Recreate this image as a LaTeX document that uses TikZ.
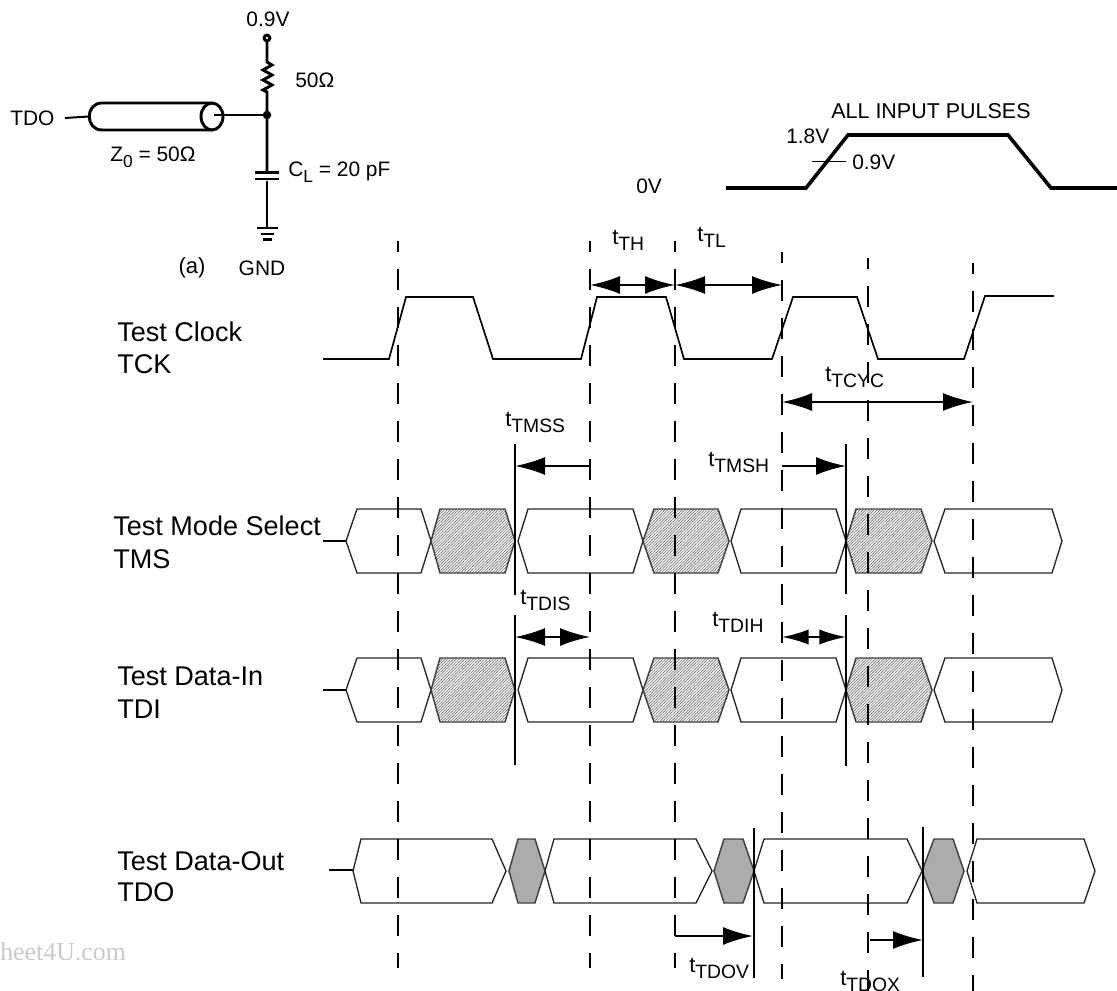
\documentclass[tikz,border=0pt]{standalone}
\usepackage{fontspec}
\setmainfont{Liberation Sans}
\newfontfamily\markfont{Liberation Serif}
\usetikzlibrary{arrows.meta,patterns.meta}
\tikzset{>={Latex[length=22.5pt,width=13.5pt]}}
\definecolor{mark1}{HTML}{C9C9C9}
\tikzstyle{wire}=[line width=2.2pt]
\tikzstyle{thin wave}=[line width=1.25pt]
\tikzstyle{thick wave}=[line width=2.7pt]
\tikzstyle{cursor}=[line width=1.85pt,dash pattern=on 15.75pt off 12.75pt,dash phase=7.5pt]
\tikzstyle{limit}=[line width=1.75pt]
\tikzstyle{span}=[line width=1.6pt]
\tikzstyle{bus}=[line width=1pt,draw=black!85,fill=white]
\tikzstyle{skew}=[line width=1.1pt,draw=black!75,pattern={Lines[angle=45,distance=1.5pt,line width=.5pt]},pattern color=black!55]
\tikzstyle{skew out}=[line width=1.1pt,draw=black!75,fill=gray!65]
\tikzstyle{caption}=[inner sep=0pt,font=\fontsize{20.3}{20.3}\selectfont]
\tikzstyle{small}=[inner sep=0pt,font=\fontsize{15.7}{15.7}\selectfont]
\tikzstyle{timing}=[inner sep=0pt,anchor=west,font=\fontsize{16.5}{16.5}\selectfont]
\newcommand{\tname}[1]{t\raisebox{-4.5pt}{\fontsize{14.5}{14.5}\selectfont #1}}
\newcommand{\lowtext}[1]{\raisebox{-4.5pt}{\fontsize{13}{13}\selectfont #1}}
\newcommand{\hexa}[7]
{  % #1 = style, #2..#5 = x of tip, corner, corner, tip, #6 = y top, #7 = y bottom
  \draw[#1] (#2,{(#6+#7)/2}) -- (#3,#6) -- (#4,#6) -- (#5,{(#6+#7)/2}) -- (#4,#7) -- (#3,#7) -- cycle;
}
\begin{document}
\begin{tikzpicture}[x=0.75pt,y=-0.75pt]
  \useasboundingbox (0,0) rectangle (1117,991);
  \node[inner sep=0pt,anchor=west,text=mark1,font=\markfont\fontsize{19.4}{19.4}\selectfont] (mark) at (0,952) {heet4U.com};
  % load circuit
  \node[small] (vtop) at (268,19) {0.9V};
  \draw[wire] (267,38) circle (2.2pt);
  \coordinate (rtop) at (267,41);
  \coordinate (join) at (267,115);
  \coordinate (gnd) at (267,228);
  \draw[wire] (rtop) -- (267,62) -- (272,65) -- (263,70) -- (272,75) -- (263,80) -- (272,85) -- (263,90) -- (267,92) -- (join) -- (267,172);
  \draw[wire] (267,181) -- (gnd);
  \fill (join) circle (3.2pt);
  \draw[wire] (255,172.5) -- (279,172.5);
  \draw[wire] (255,179) -- (279,179);
  \draw[wire] (257,228) -- (278,228);
  \draw[wire] (261,234) -- (274,234);
  \draw[wire] (263,239.5) -- (272,239.5);
  \node[small,anchor=west] (tdo in) at (10,118) {TDO};
  \coordinate (cable l) at (89,116.5);
  \draw[line width=1.5pt] (65,118) -- (cable l);
  \draw[wire] (212,103) -- (102,103) .. controls (85,103) and (85,130) .. (102,130) -- (212,130);
  \draw[wire] (212,116.5) circle[x radius=8.25pt,y radius=10.1pt];
  \draw[wire] (214,115) -- (join);
  \node[small,anchor=west] (z0) at (110,157) {Z\lowtext{0} = 50Ω};
  \node[small,anchor=west] (r50) at (295,80) {50Ω};
  \node[small,anchor=west] (cl) at (288,172) {C\lowtext{L} = 20 pF};
  \node[small,font=\fontsize{16.5}{16.5}\selectfont] (a) at (192,268) {(a)};
  \node[small] (gnd text) at (262,268) {GND};
  % input pulse
  \draw[thick wave] (726,188) -- (806,188) -- (848,135) -- (1008,135) -- (1051,188) -- (1117,188);
  \draw[line width=1.3pt] (812,161.5) -- (846,161.5);
  \node[small,font=\fontsize{16.1}{16.1}\selectfont] (pulses) at (931,111) {ALL INPUT PULSES};
  \node[small,anchor=west] (v18) at (786,136) {1.8V};
  \node[small,anchor=west] (v09) at (852,162) {0.9V};
  \node[small,anchor=west] (v0) at (636,186) {0V};
  % signal names
  \node[caption,anchor=west] (tck a) at (117,332) {Test Clock};
  \node[caption,anchor=west] (tck b) at (117,364) {TCK};
  \node[caption,anchor=west] (tms a) at (113,526) {Test Mode Select};
  \node[caption,anchor=west] (tms b) at (113,559) {TMS};
  \node[caption,anchor=west] (tdi a) at (117,676) {Test Data-In};
  \node[caption,anchor=west] (tdi b) at (117,709) {TDI};
  \node[caption,anchor=west] (tdo a) at (117,861) {Test Data-Out};
  \node[caption,anchor=west] (tdo b) at (117,892) {TDO};
  % clock
  \draw[thin wave] (323,359) -- (389,359) -- (406,297) -- (473,297) -- (493,359) -- (581,359) -- (597,297) -- (666,297) -- (684,359)
                   -- (772,359) -- (793,297) -- (857,297) -- (878,359) -- (964,359) -- (985,296) -- (1054,296);
  % data rows
  \foreach \ytop/\ybot in {509/573,658/722}{
    \draw[wire] (323,{(\ytop+\ybot)/2}) -- (346,{(\ytop+\ybot)/2});
    \hexa{bus}{346}{357}{421}{431}{\ytop}{\ybot}
    \hexa{skew}{431}{440}{505}{515}{\ytop}{\ybot}
    \hexa{bus}{518}{528}{633}{643}{\ytop}{\ybot}
    \hexa{skew}{643}{654}{718}{729}{\ytop}{\ybot}
    \hexa{bus}{731}{741}{836}{846}{\ytop}{\ybot}
    \hexa{skew}{846}{856}{921}{932}{\ytop}{\ybot}
    \hexa{bus}{934}{945}{1052}{1062}{\ytop}{\ybot}
  }
  \draw[wire] (329,870) -- (355,870);
  \hexa{bus}{353}{361}{492}{506}{839}{903}
  \hexa{skew out}{509}{518}{535}{545}{839}{903}
  \hexa{bus}{545}{554}{696}{712}{839}{903}
  \hexa{skew out}{714}{724}{743}{754}{839}{903}
  \hexa{bus}{754}{764}{907}{922}{839}{903}
  \hexa{skew out}{922}{934}{953}{964}{839}{903}
  \hexa{bus}{967}{977}{1084}{1095}{839}{903}
  % cursors
  \foreach \xpos/\ystart/\yend in {398/241/968,590/241/968,675/241/968,782/252/979,868/258/991,973/263/991}{
    \draw[cursor] (\xpos,\ystart) -- (\xpos,\yend);
  }
  \draw[limit] (515,444) -- (515,595);
  \draw[limit] (515,615) -- (515,765);
  \draw[limit] (846,444) -- (846,594);
  \draw[limit] (846,615) -- (846,766);
  \draw[limit] (754,828) -- (754,978);
  \draw[limit] (923,827) -- (923,977);
  % timing arrows
  \coordinate (th a) at (590,285);
  \coordinate (th b) at (675,285);
  \coordinate (tl b) at (782,285);
  \coordinate (cyc a) at (782,402);
  \coordinate (cyc b) at (973,402);
  \coordinate (mss a) at (515,466);
  \coordinate (mss b) at (590,466);
  \coordinate (msh a) at (782,466);
  \coordinate (msh b) at (846,466);
  \coordinate (dis a) at (515,637);
  \coordinate (dis b) at (590,637);
  \coordinate (dih a) at (782,637);
  \coordinate (dih b) at (846,637);
  \coordinate (dov a) at (675,936);
  \coordinate (dov b) at (753,936);
  \coordinate (dox a) at (870,940);
  \coordinate (dox b) at (923,940);
  \draw[span,<->] (th a) -- (th b);
  \draw[span,<->] (th b) -- (tl b);
  \draw[span,<->] (cyc a) -- (cyc b);
  \draw[span,->] (mss b) -- (mss a);
  \draw[span,->] (msh a) -- (msh b);
  \draw[span,<->] (dis a) -- (dis b);
  \draw[span,{Latex[length=20pt,width=11.5pt]}-{Latex[length=20pt,width=11.5pt]}] (dih a) -- (dih b);
  \draw[span,->] (dov a) -- (dov b);
  \draw[span,->] (dox a) -- (dox b);
  \node[timing] (lab th) at (612,240) {\tname{TH}};
  \node[timing] (lab tl) at (697,237) {\tname{TL}};
  \node[timing] (lab cyc) at (825,377) {\tname{TCYC}};
  \node[timing] (lab mss) at (505,422) {\tname{TMSS}};
  \node[timing] (lab msh) at (708,462) {\tname{TMSH}};
  \node[timing] (lab dis) at (520,600) {\tname{TDIS}};
  \node[timing] (lab dih) at (712,622) {\tname{TDIH}};
  \node[timing] (lab dov) at (689,968) {\tname{TDOV}};
  \node[timing] (lab dox) at (840,981) {\tname{TDOX}};
\end{tikzpicture}
\end{document}
